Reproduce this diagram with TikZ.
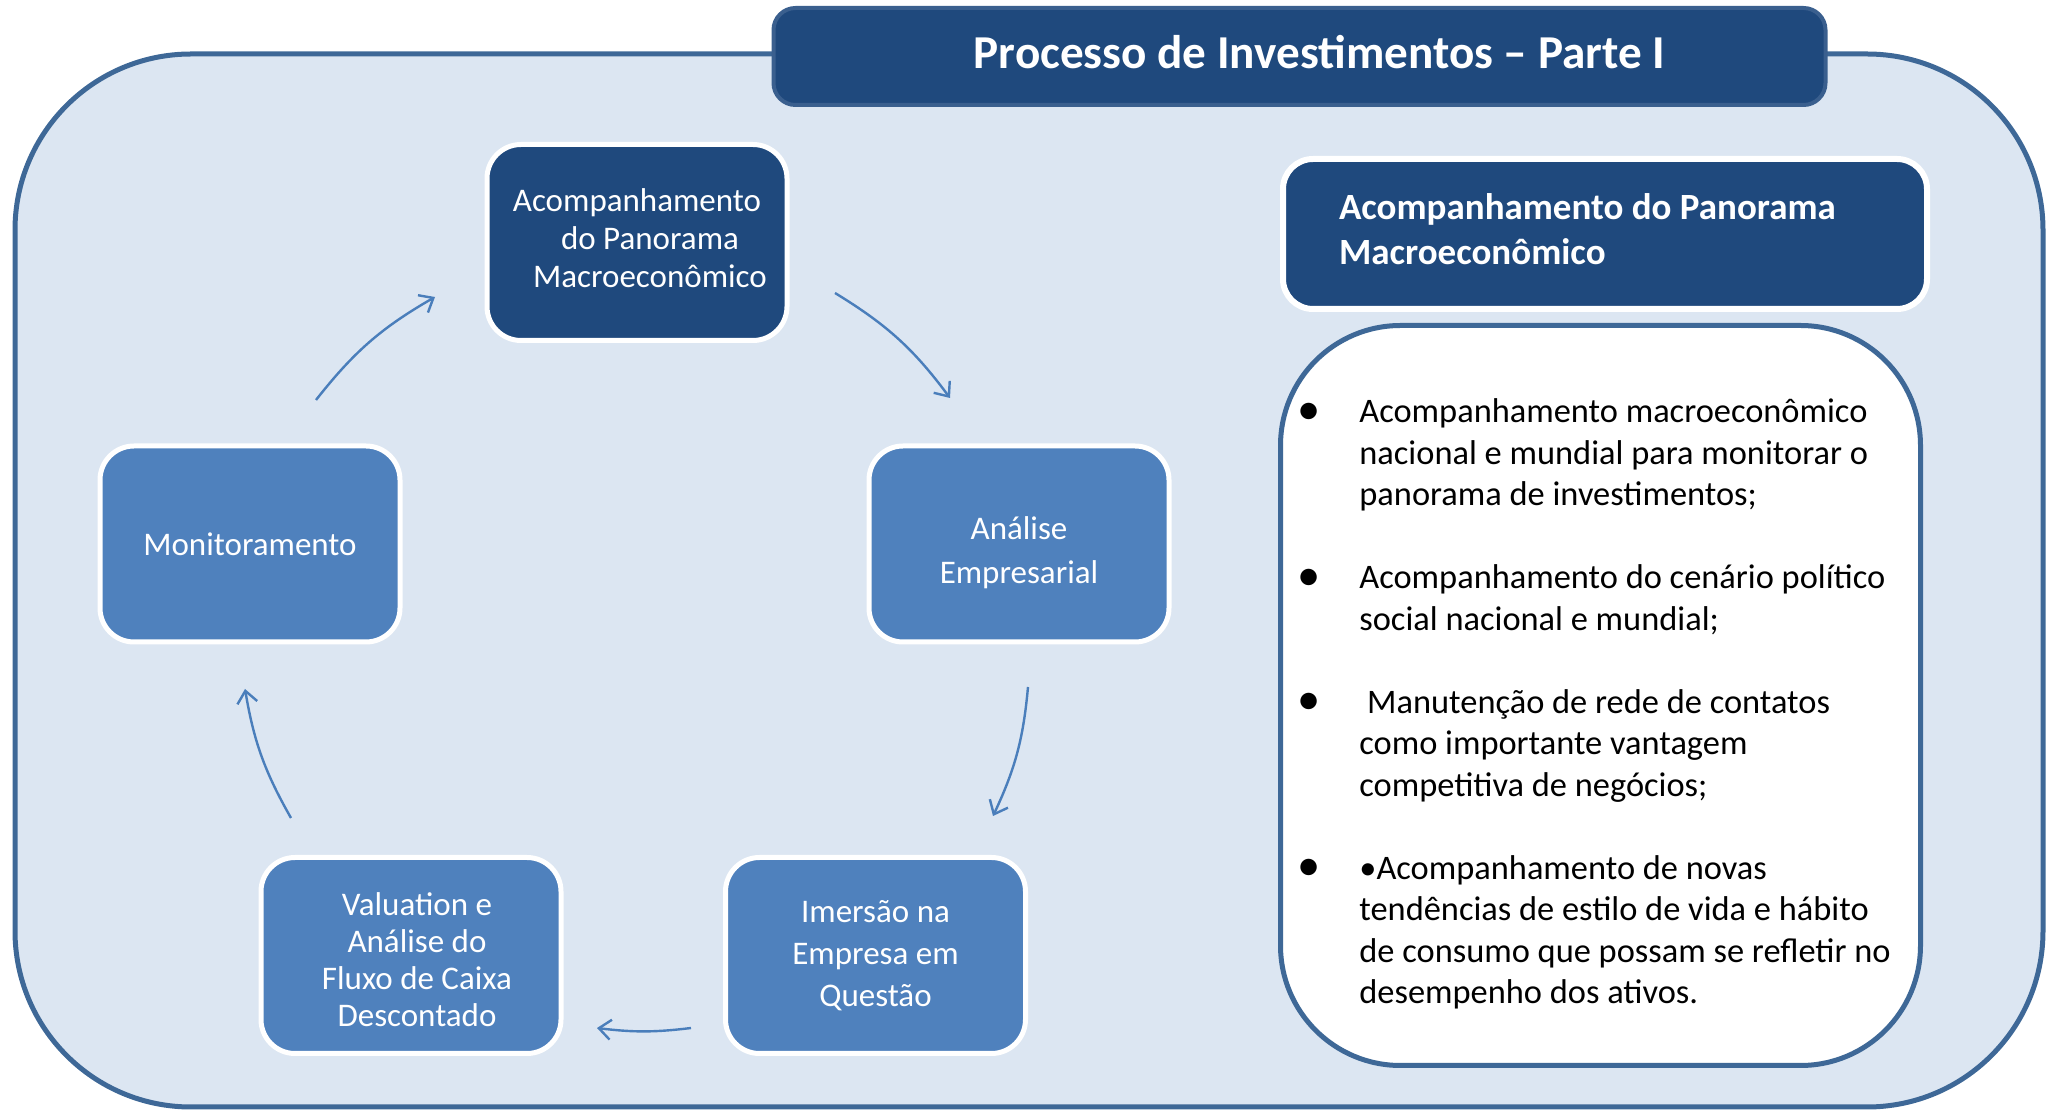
\documentclass[tikz,border=0pt]{standalone}
\usepackage{fontspec}
\setmainfont{Carlito}
\usepackage{graphicx}
\usetikzlibrary{arrows.meta}
\definecolor{bgfill}{HTML}{DCE6F2}
\definecolor{frame}{HTML}{3E6897}
\definecolor{darkblue}{HTML}{1F497D}
\definecolor{midblue}{HTML}{4F81BD}
\definecolor{arrowblue}{HTML}{4A7EBB}
\definecolor{titleframe}{HTML}{3A5F8E}
\newcommand{\bitem}{\par\hangindent=26pt\hangafter=0\noindent\llap{\makebox[26pt][l]{\hspace{-5pt}\raisebox{-0.75pt}{\scalebox{1.35}{•}}}}}
\begin{document}
\begin{tikzpicture}[x=0.5pt,y=0.5pt,
  stepbox/.style={draw=white, line width=2.5pt, rounded corners=17pt, minimum width=150pt, minimum height=98pt, text=white, align=center, inner sep=0pt, font=\fontsize{16.5}{19}\selectfont},
  darkbox/.style={stepbox, fill=darkblue},
  lightbox/.style={stepbox, fill=midblue},
  flow/.style={draw=arrowblue, line width=1.2pt, -{Straight Barb[length=6pt,width=10pt]}},
  titlebox/.style={fill=darkblue, draw=titleframe, line width=2pt, rounded corners=11pt, minimum width=526pt, minimum height=48.5pt, text=white, inner sep=0pt, font=\bfseries\fontsize{23.6}{28}\selectfont},
  hdrbox/.style={fill=darkblue, draw=white, line width=3pt, rounded corners=15pt, minimum width=322pt, minimum height=75pt, text=white, inner xsep=28pt, inner ysep=0pt, text width=266pt, align=flush left, font=\bfseries\fontsize{18.5}{22.25}\selectfont},
  bodybox/.style={fill=white, draw=frame, line width=2.5pt, rounded corners=60pt, minimum width=320pt, minimum height=370pt},
]
\useasboundingbox (0,0) rectangle (2053,-1111);
\draw[fill=bgfill, draw=frame, line width=2.5pt, rounded corners=88pt] (15,-54) rectangle (2043,-1107);

\node[titlebox] (title) at (1299.5,-56.5) {\hspace*{20pt}Processo de Investimentos – Parte I\rule[-5pt]{0pt}{5pt}};

\node[darkbox] (macro) at (637,-242.5) {Acompanhamento\\\hspace*{13pt}do Panorama\\\hspace*{13pt}Macroeconômico\rule[-4pt]{0pt}{4pt}};
\node[lightbox] (monit) at (250,-544) {Monitoramento};
\node[lightbox, font=\fontsize{16.5}{22.25}\selectfont] (anal) at (1019,-544) {\rule{0pt}{20pt}Análise\\Empresarial};
\node[lightbox, font=\fontsize{16.5}{21}\selectfont] (imers) at (875.5,-955.5) {Imersão na\\Empresa em\\Questão};
\node[lightbox, font=\fontsize{16.5}{18.5}\selectfont] (valu) at (411,-955.5) {\rule{0pt}{16pt}\hspace*{6pt}Valuation e\\\hspace*{6pt}Análise do\\\hspace*{6pt}Fluxo de Caixa\\\hspace*{6pt}Descontado};

\coordinate (a1s) at (316,-400);  \coordinate (a1e) at (435,-297);
\coordinate (a2s) at (835,-293);  \coordinate (a2e) at (950,-398);
\coordinate (a3s) at (1028,-687); \coordinate (a3e) at (993,-816);
\coordinate (a4s) at (691,-1028); \coordinate (a4e) at (597,-1028);
\coordinate (a5s) at (291,-818);  \coordinate (a5e) at (245,-689);
\draw[flow] (a1s) to[bend left=11] (a1e);
\draw[flow] (a2s) to[bend left=11] (a2e);
\draw[flow] (a3s) to[bend left=10] (a3e);
\draw[flow] (a4s) to[bend left=7] (a4e);
\draw[flow] (a5s) to[bend left=10] (a5e);

\node[hdrbox] (hdr) at (1605,-234) {Acompanhamento do Panorama\\Macroeconômico\rule[-5pt]{0pt}{5pt}};

\node[bodybox] (body) at (1600.5,-695.5) {};
\node[anchor=base west, inner sep=0pt] (bodytext) at (1307,-423) {\begin{minipage}[t]{320pt}\fontsize{17.2}{20.75}\selectfont\setlength{\parskip}{20.75pt}%
\bitem Acompanhamento macroeconômico\\nacional e mundial para monitorar o\\panorama de investimentos;
\bitem Acompanhamento do cenário político\\social nacional e mundial;
\bitem \ Manutenção de rede de contatos\\como importante vantagem\\competitiva de negócios;
\bitem •Acompanhamento de novas\\tendências de estilo de vida e hábito\\de consumo que possam se refletir no\\desempenho dos ativos.
\end{minipage}};
\end{tikzpicture}
\end{document}
